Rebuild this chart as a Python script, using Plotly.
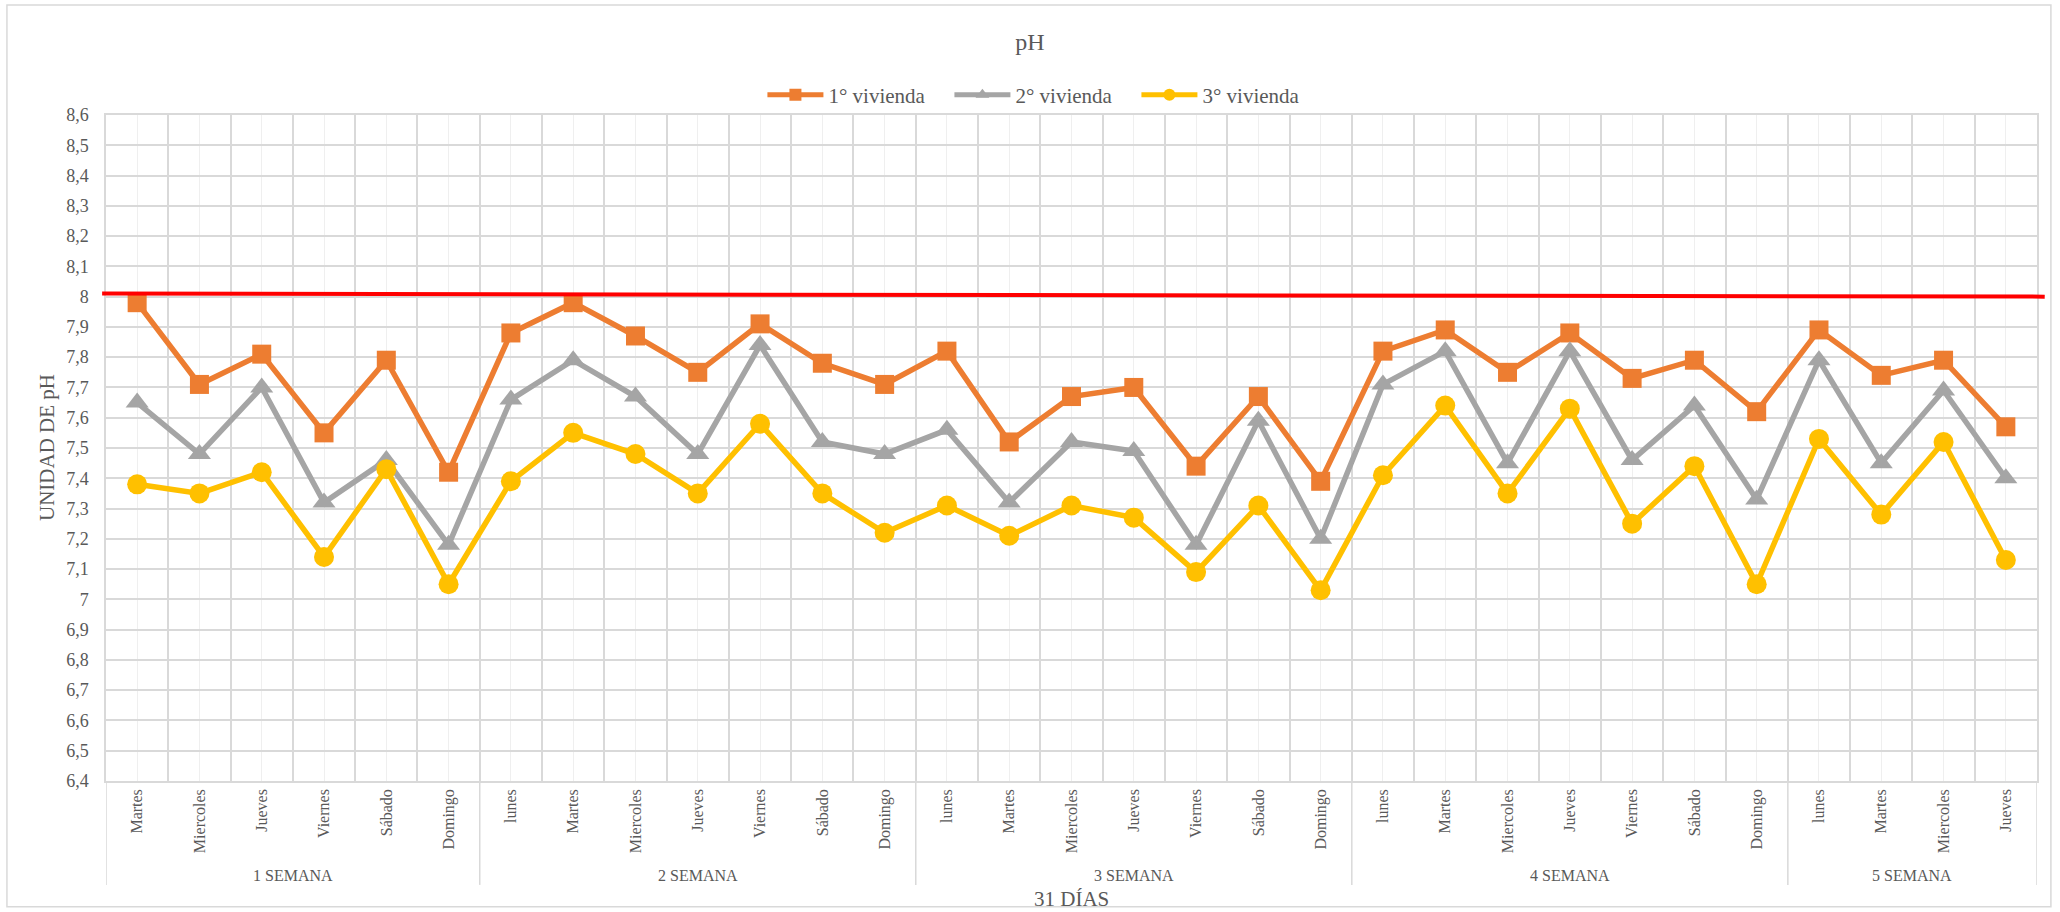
import plotly.graph_objects as go

semanas = ["1 SEMANA", "2 SEMANA", "3 SEMANA", "4 SEMANA", "5 SEMANA"]
dias_por_semana = [6, 7, 7, 7, 4]
dias = ["Martes", "Miercoles", "Jueves", "Viernes", "Sábado", "Domingo",
        "lunes", "Martes", "Miercoles", "Jueves", "Viernes", "Sábado", "Domingo",
        "lunes", "Martes", "Miercoles", "Jueves", "Viernes", "Sábado", "Domingo",
        "lunes", "Martes", "Miercoles", "Jueves", "Viernes", "Sábado", "Domingo",
        "lunes", "Martes", "Miercoles", "Jueves"]
vivienda1 = [7.98, 7.71, 7.81, 7.55, 7.79, 7.42,
             7.88, 7.98, 7.87, 7.75, 7.91, 7.78, 7.71,
             7.82, 7.52, 7.67, 7.70, 7.44, 7.67, 7.39,
             7.82, 7.89, 7.75, 7.88, 7.73, 7.79, 7.62,
             7.89, 7.74, 7.79, 7.57]
vivienda2 = [7.65, 7.48, 7.70, 7.32, 7.46, 7.18,
             7.66, 7.79, 7.67, 7.48, 7.84, 7.52, 7.48,
             7.56, 7.32, 7.52, 7.49, 7.18, 7.59, 7.20,
             7.71, 7.82, 7.45, 7.82, 7.46, 7.64, 7.33,
             7.79, 7.45, 7.69, 7.40]
vivienda3 = [7.38, 7.35, 7.42, 7.14, 7.43, 7.05,
             7.39, 7.55, 7.48, 7.35, 7.58, 7.35, 7.22,
             7.31, 7.21, 7.31, 7.27, 7.09, 7.31, 7.03,
             7.41, 7.64, 7.35, 7.63, 7.25, 7.44, 7.05,
             7.53, 7.28, 7.52, 7.13]
nombres = ["1° vivienda", "2° vivienda", "3° vivienda"]
limite_ph = [8.01, 8.0]

FONT = "Liberation Serif"
GRAY_TXT = "#595959"
GRID = "#d9d9d9"

x = list(range(len(dias)))

fig = go.Figure()
series = [
    (vivienda1, nombres[0], "#ED7D31", "square", 19),
    (vivienda2, nombres[1], "#A5A5A5", "triangle-up", 20),
    (vivienda3, nombres[2], "#FFC000", "circle", 20),
]
for vals, name, col, sym, sz in series:
    fig.add_trace(go.Scatter(
        x=x, y=vals, name=name, mode="lines+markers",
        line=dict(color=col, width=5.5),
        marker=dict(symbol=sym, size=sz, color=col),
    ))

# reference line (pH limit)
fig.add_shape(type="line", xref="paper", yref="y", x0=-0.002, x1=1.004,
              y0=limite_ph[0], y1=limite_ph[1],
              line=dict(color="#FF0000", width=4), layer="above")

# group labels and dividers
bounds = [-0.5]
for n in dias_por_semana:
    bounds.append(bounds[-1] + n)
for i, s in enumerate(semanas):
    c = (bounds[i] + bounds[i + 1]) / 2
    fig.add_annotation(x=c, xref="x", y=0, yref="paper", yshift=-94,
                       text=s, showarrow=False, yanchor="middle",
                       font=dict(family=FONT, size=16, color=GRAY_TXT))
for b in bounds:
    fig.add_shape(type="line", xref="x", yref="paper", x0=b, x1=b,
                  y0=0, y1=-0.156, line=dict(color=GRID, width=1.5))

# outer chart border
fig.add_shape(type="rect", xref="paper", yref="paper",
              x0=-0.0513, x1=1.0072, y0=-0.189, y1=1.165,
              line=dict(color=GRID, width=1.5))

fig.add_annotation(x=0.5, xref="paper", y=0, yref="paper", yshift=-118,
                   text="31 DÍAS", showarrow=False, yanchor="middle",
                   font=dict(family=FONT, size=21, color=GRAY_TXT))
fig.add_annotation(x=0, xref="paper", xshift=-59, y=0.5, yref="paper",
                   text="UNIDAD DE pH", showarrow=False, textangle=-90,
                   xanchor="center", yanchor="middle",
                   font=dict(family=FONT, size=21, color=GRAY_TXT))

fig.update_layout(
    width=2060, height=912,
    margin=dict(l=106, r=23, t=115, b=131),
    paper_bgcolor="white", plot_bgcolor="white",
    separators=",.",
    font=dict(family=FONT, color=GRAY_TXT),
    title=dict(text="pH", x=0.5, xanchor="center", y=1 - 42 / 912,
               yanchor="middle", yref="container",
               font=dict(family=FONT, size=24, color=GRAY_TXT)),
    legend=dict(orientation="h", x=0.4852, xanchor="center", y=1.030,
                yanchor="middle", font=dict(family=FONT, size=21, color=GRAY_TXT),
                itemwidth=56, entrywidth=116, entrywidthmode="pixels",
                itemsizing="constant",
                bgcolor="rgba(0,0,0,0)"),
    showlegend=True,
)
fig.update_xaxes(
    range=[-0.5, len(dias) - 0.5], tickmode="array", tickvals=x, ticktext=dias,
    tickangle=-90, tickfont=dict(family=FONT, size=16, color=GRAY_TXT),
    showgrid=True, gridcolor="#efefef", gridwidth=1, ticks="",
    minor=dict(tick0=-0.5, dtick=1, showgrid=True, gridcolor=GRID, gridwidth=1.5),
    showline=True, linecolor=GRID, linewidth=1.5, mirror=True,
    zeroline=False, automargin=False, fixedrange=True,
)
fig.update_yaxes(
    range=[6.4, 8.6], dtick=0.1, tick0=6.4,
    tickfont=dict(family=FONT, size=18, color=GRAY_TXT),
    ticklabelstandoff=12,
    showgrid=True, gridcolor=GRID, gridwidth=1.5,
    showline=True, linecolor=GRID, linewidth=1.5, mirror=True,
    zeroline=False, ticks="", automargin=False,
)

fig.write_html("out.html", config={"displayModeBar": False},
               post_script="document.body.style.margin='0';")
